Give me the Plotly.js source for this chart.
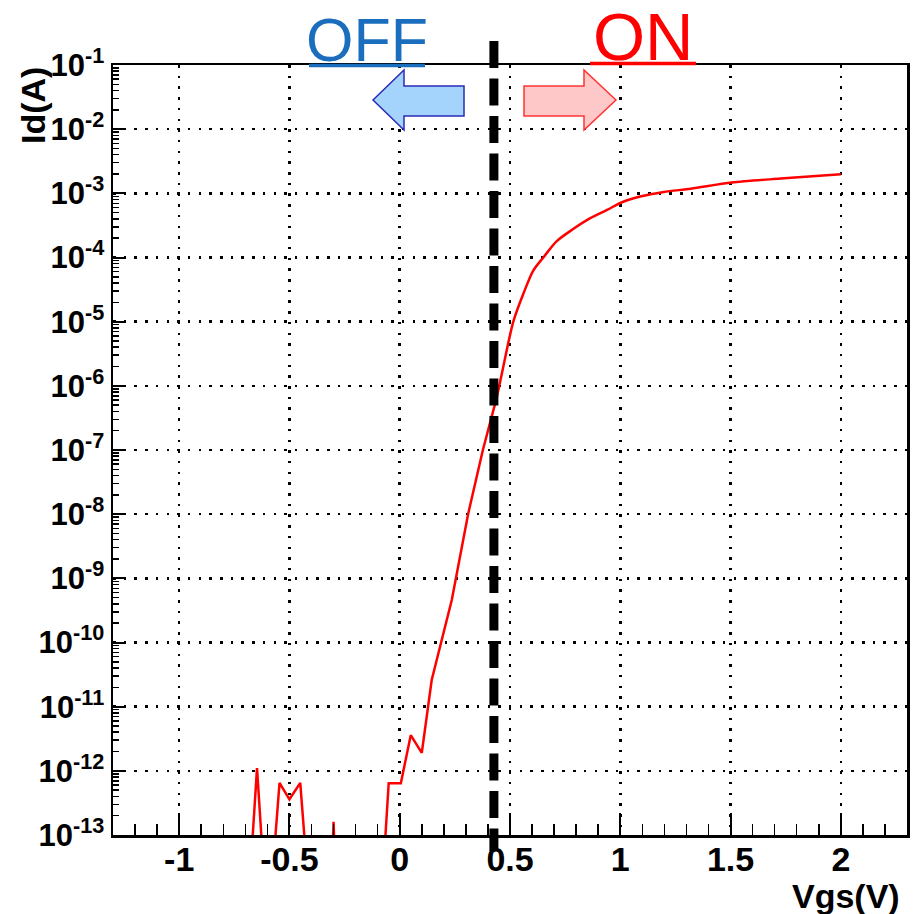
<!DOCTYPE html>
<html>
<head>
<meta charset="utf-8">
<script src="https://cdn.plot.ly/plotly-3.0.1.min.js"></script>
<style>html,body{margin:0;padding:0;background:#fff;}</style>
</head>
<body>
<div id="chart" style="width:913px;height:914px;"></div>
<script>
// ---- data ----
var vgs = [-0.672, -0.647, -0.622, -0.570, -0.545, -0.500, -0.451, -0.426,
           -0.305, -0.300, -0.295,
           -0.070, -0.050, 0.005, 0.050, 0.100, 0.145, 0.236, 0.310, 0.377,
           0.440, 0.467, 0.515, 0.561, 0.606, 0.651, 0.712, 0.788, 0.864,
           0.940, 1.005, 1.090, 1.197, 1.320, 1.505, 1.727, 2.000];
var id = [5e-14, 1.1e-12, 5e-14, 5e-14, 6.5e-13, 3.6e-13, 6.5e-13, 5e-14,
          5e-14, 1.6e-13, 5e-14,
          5e-14, 6.4e-13, 6.4e-13, 3.6e-12, 1.9e-12, 2.6e-11, 4.6e-10, 1e-8, 1e-7,
          6.6e-7, 1.8e-6, 1e-5, 2.75e-5, 6.3e-5, 1e-4, 1.8e-4, 2.8e-4, 4.1e-4,
          5.5e-4, 7.2e-4, 8.9e-4, 1.05e-3, 1.18e-3, 1.47e-3, 1.7e-3, 1.99e-3];
var xTickVals = [-1, -0.5, 0, 0.5, 1, 1.5, 2];
var xTickText = ['-1', '-0.5', '0', '0.5', '1', '1.5', '2'];
var yTickVals = [1e-13, 1e-12, 1e-11, 1e-10, 1e-9, 1e-8, 1e-7, 1e-6, 1e-5, 1e-4, 1e-3, 1e-2, 1e-1];
var yTickText = ['10<sup>-13</sup>', '10<sup>-12</sup>', '10<sup>-11</sup>', '10<sup>-10</sup>',
                 '10<sup>-9</sup>', '10<sup>-8</sup>', '10<sup>-7</sup>', '10<sup>-6</sup>',
                 '10<sup>-5</sup>', '10<sup>-4</sup>', '10<sup>-3</sup>', '10<sup>-2</sup>', '10<sup>-1</sup>'];
var thresholdV = 0.427;
var xTitle = 'Vgs(V)';
var yTitle = 'Id(A)';
var offLabel = 'OFF';
var onLabel = 'ON';

// ---- minor tick positions (axis decoration) ----
var xMinor = [];
for (var k = -12; k <= 22; k++) xMinor.push(k / 10);
var yMinor = [];
for (var e = -13; e < -1; e++) for (var m = 2; m <= 9; m++) yMinor.push(m * Math.pow(10, e));

// ---- layout geometry helpers (pixel -> paper) ----
var L = 113, R = 907, T = 65, B = 835;
function px(x) { return (x - L) / (R - L); }
function py(y) { return (B - y) / (B - T); }
function poly(pts) {
  return pts.map(function (p, i) { return (i ? 'L' : 'M') + px(p[0]) + ',' + py(p[1]); }).join(' ') + ' Z';
}

var smoothStart = 20; // index from which the measured curve is smooth
var traceNoisy = {
  x: vgs.slice(0, smoothStart + 1), y: id.slice(0, smoothStart + 1), type: 'scatter', mode: 'lines',
  line: {color: '#ff0000', width: 2.5},
  hoverinfo: 'skip', showlegend: false
};
var traceSmooth = {
  x: vgs.slice(smoothStart), y: id.slice(smoothStart), type: 'scatter', mode: 'lines',
  line: {color: '#ff0000', width: 2.5, shape: 'spline', smoothing: 0.8},
  hoverinfo: 'skip', showlegend: false
};

var font = 'Liberation Sans, Arial, Helvetica, sans-serif';
var grid = {showgrid: true, gridcolor: '#000', gridwidth: 2.5, griddash: '2.5px,8.2px'};

var layout = {
  width: 913, height: 914,
  margin: {l: L, r: 913 - R, t: T, b: 914 - B},
  paper_bgcolor: '#fff', plot_bgcolor: '#fff',
  showlegend: false,
  xaxis: Object.assign({
    range: [-1.3, 2.3], tickmode: 'array', tickvals: xTickVals, ticktext: xTickText,
    ticks: 'inside', ticklen: 22, tickwidth: 2, tickcolor: '#000', ticklabelstandoff: -7,
    minor: {tickmode: 'array', tickvals: xMinor, ticks: 'inside', ticklen: 11, tickwidth: 1.5, tickcolor: '#000'},
    showline: true, linecolor: '#000', linewidth: 2.5, mirror: true, zeroline: false,
    tickfont: {family: font, size: 34, color: '#000', weight: 'bold'}
  }, grid),
  yaxis: Object.assign({
    type: 'log', range: [-13, -1], tickmode: 'array', tickvals: yTickVals, ticktext: yTickText,
    ticks: 'inside', ticklen: 11, tickwidth: 2, tickcolor: '#000',
    minor: {tickmode: 'array', tickvals: yMinor, ticks: 'inside', ticklen: 6, tickwidth: 1.5, tickcolor: '#000'},
    showline: true, linecolor: '#000', linewidth: 2.5, mirror: true, zeroline: false,
    tickfont: {family: font, size: 31, color: '#000', weight: 'bold'}
  }, grid),
  shapes: [
    {type: 'line', xref: 'x', yref: 'paper', x0: thresholdV, x1: thresholdV, y0: py(41), y1: py(851),
     line: {color: '#000', width: 9, dash: '27px,10.5px'}},
    {type: 'path', xref: 'paper', yref: 'paper',
     path: poly([[373, 100], [404, 70], [404, 86], [464, 86], [464, 116], [404, 116], [404, 130]]),
     fillcolor: '#a4d4fb', line: {color: '#2a2ab8', width: 1.5}},
    {type: 'path', xref: 'paper', yref: 'paper',
     path: poly([[616, 100], [584, 70], [584, 86], [524, 86], [524, 116], [584, 116], [584, 130]]),
     fillcolor: '#ffc8c8', line: {color: '#ff3333', width: 1.5}},
    {type: 'line', xref: 'paper', yref: 'paper', x0: px(309), x1: px(425), y0: py(65.5), y1: py(65.5),
     line: {color: '#1a6ebd', width: 3.5}},
    {type: 'line', xref: 'paper', yref: 'paper', x0: px(590), x1: px(696), y0: py(63.5), y1: py(63.5),
     line: {color: '#ff0000', width: 3.5}}
  ],
  annotations: [
    {text: offLabel, xref: 'paper', yref: 'paper', x: px(367), y: py(40), xanchor: 'center', yanchor: 'middle',
     showarrow: false, font: {family: font, size: 61, color: '#1a6ebd'}},
    {text: onLabel, xref: 'paper', yref: 'paper', x: px(643), y: py(37), xanchor: 'center', yanchor: 'middle',
     showarrow: false, font: {family: font, size: 67, color: '#ff0000'}},
    {text: xTitle, xref: 'paper', yref: 'paper', x: px(846), y: py(896), xanchor: 'center', yanchor: 'middle',
     showarrow: false, font: {family: font, size: 34, color: '#000', weight: 'bold'}},
    {text: yTitle, xref: 'paper', yref: 'paper', x: px(33), y: py(106), xanchor: 'center', yanchor: 'middle',
     textangle: -90, showarrow: false, font: {family: font, size: 34, color: '#000', weight: 'bold'}}
  ]
};

Plotly.newPlot('chart', [traceNoisy, traceSmooth], layout, {displayModeBar: false, staticPlot: true});
</script>
</body>
</html>
